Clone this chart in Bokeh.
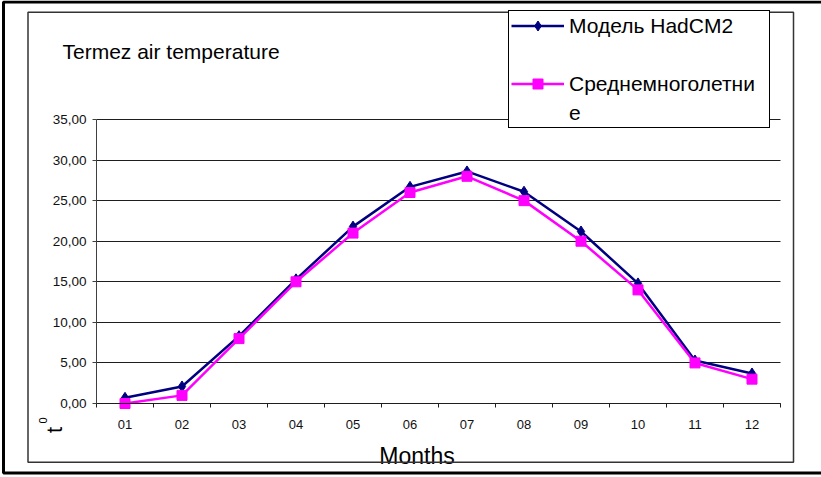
import math
from bokeh.plotting import figure
from bokeh.models import (FixedTicker, Legend, LegendItem, Label, BoxAnnotation,
                          Range1d, ColumnDataSource, LinearAxis, Grid)
from bokeh.embed import file_html
from bokeh.resources import INLINE

# ---- data ----
months = ["01", "02", "03", "04", "05", "06", "07", "08", "09", "10", "11", "12"]
month_pos = list(range(1, 13))
hadcm2 = [0.7, 2.1, 8.3, 15.3, 21.8, 26.7, 28.6, 26.1, 21.2, 14.8, 5.3, 3.7]
long_term_mean = [0.0, 1.0, 8.0, 15.0, 21.0, 26.0, 28.0, 25.0, 20.0, 14.0, 5.0, 3.0]
y_ticks = [0, 5, 10, 15, 20, 25, 30, 35]
y_tick_labels = ["0,00", "5,00", "10,00", "15,00", "20,00", "25,00", "30,00", "35,00"]
series_names = ["Модель HadCM2", "Среднемноголетни", "е"]
title_text = "Termez air temperature"
x_title = "Months"

FONT = "Liberation Sans"
NAVY = "#000080"
MAGENTA = "#FF00FF"

W, H = 821, 477
# plot area in pixels (left, right, top, bottom)
PL, PR, PT, PB = 96, 780, 119, 403
x_lo, x_hi = 0.5, 12.5
y_lo, y_hi = 0, 35
xs = (PR - PL) / (x_hi - x_lo)
ys = (PB - PT) / (y_hi - y_lo)
x_range = Range1d(x_lo - PL / xs, x_hi + (W - PR) / xs)
y_range = Range1d(y_lo - (H - PB) / ys, y_hi + PT / ys)

src = ColumnDataSource(data=dict(m=month_pos, had=hadcm2, mean=long_term_mean))

p = figure(width=W, height=H, output_backend="svg", toolbar_location=None,
           x_range=x_range, y_range=y_range, x_axis_location=None, y_axis_location=None,
           min_border=0)
p.outline_line_color = None
p.background_fill_color = "white"
p.border_fill_color = "white"
p.xgrid.visible = False
p.ygrid.visible = False

# horizontal grid lines limited to the plot area
grid = Grid(dimension=1, ticker=FixedTicker(ticks=y_ticks), grid_line_color="#1e1e1e",
            grid_line_width=1, bounds=(y_lo, y_hi))
if "cross_bounds" in grid.properties():
    grid.cross_bounds = (x_lo, x_hi)
    p.add_layout(grid)
else:
    p.segment(x0=x_lo, x1=x_hi, y0=y_ticks, y1=y_ticks, line_color="#1e1e1e", line_width=1)

# y axis inside the frame
yax = LinearAxis(fixed_location=x_lo, bounds=(y_lo, y_hi), ticker=FixedTicker(ticks=y_ticks))
yax.major_label_overrides = {t: l for t, l in zip(y_ticks, y_tick_labels)}
yax.axis_line_color = "#404040"
yax.major_tick_line_color = "#404040"
yax.major_tick_out = 4
yax.major_tick_in = 0
yax.minor_tick_line_color = None
yax.major_label_standoff = 6
yax.major_label_text_font = FONT
yax.major_label_text_font_size = "13.5px"
yax.major_label_text_color = "#111111"
p.add_layout(yax, "left")

# x axis inside the frame
xax = LinearAxis(fixed_location=y_lo, bounds=(x_lo, x_hi),
                 ticker=FixedTicker(ticks=month_pos,
                                    minor_ticks=[m - 0.5 for m in month_pos] + [month_pos[-1] + 0.5]))
xax.major_label_overrides = {m: s for m, s in zip(month_pos, months)}
xax.axis_line_color = "#1e1e1e"
xax.major_tick_out = 0
xax.major_tick_in = 0
xax.minor_tick_out = 4
xax.minor_tick_in = 0
xax.minor_tick_line_color = "#1e1e1e"
xax.major_label_standoff = 12
xax.major_label_text_font = FONT
xax.major_label_text_font_size = "13px"
xax.major_label_text_color = "#111111"
p.add_layout(xax, "below")

# series
r1l = p.line(x="m", y="had", source=src, line_color=NAVY, line_width=2.5)
r1s = p.scatter(x="m", y="had", source=src, marker="diamond", size=11,
                fill_color=NAVY, line_color=NAVY)
r2l = p.line(x="m", y="mean", source=src, line_color=MAGENTA, line_width=2.5)
r2s = p.scatter(x="m", y="mean", source=src, marker="square", size=10,
                fill_color=MAGENTA, line_color=MAGENTA)

legend = Legend(items=[
    LegendItem(label=series_names[0], renderers=[r1l, r1s]),
    LegendItem(label=" ", renderers=[]),
    LegendItem(label=series_names[1], renderers=[r2l, r2s]),
    LegendItem(label=series_names[2], renderers=[]),
], location=(508, H - 128))
legend.label_text_font = FONT
legend.label_text_font_size = "21px"
legend.label_text_color = "black"
legend.glyph_width = 53
legend.glyph_height = 25
legend.label_height = 25
legend.label_width = 198
legend.label_standoff = 5
legend.padding = 2
legend.spacing = 4
legend.margin = 0
legend.border_line_color = "black"
legend.border_line_width = 1
legend.border_line_alpha = 1.0
legend.background_fill_color = "white"
legend.background_fill_alpha = 1.0
p.add_layout(legend)

# texts (screen units measured from the canvas bottom-left)
p.add_layout(Label(x=62, y=H - 51, x_units="screen", y_units="screen", text=title_text,
                   text_font=FONT, text_font_size="21px", text_baseline="alphabetic",
                   text_color="black"))
p.add_layout(Label(x=416.5, y=H - 455, x_units="screen", y_units="screen", text=x_title,
                   text_font=FONT, text_font_size="23px", text_baseline="alphabetic",
                   text_align="center", text_color="black"))
p.add_layout(Label(x=54, y=H - 429.5, x_units="screen", y_units="screen", text="t",
                   angle=math.pi / 2, text_font=FONT, text_font_size="22px",
                   text_baseline="middle", text_align="center", text_color="black"))
p.add_layout(Label(x=42, y=H - 420, x_units="screen", y_units="screen", text="0",
                   angle=math.pi / 2, text_font=FONT, text_font_size="11px",
                   text_baseline="middle", text_align="center", text_color="black"))

# chart-area border and outer frame
p.add_layout(BoxAnnotation(left=27.5, right=793, top=H - 11.7, bottom=H - 461.7,
                           left_units="screen", right_units="screen",
                           top_units="screen", bottom_units="screen",
                           fill_alpha=0, line_color="#333333", line_alpha=1.0, line_width=1.5))
p.add_layout(BoxAnnotation(left=3, right=835, top=H - 1.5, bottom=H - 472.5,
                           left_units="screen", right_units="screen",
                           top_units="screen", bottom_units="screen",
                           fill_alpha=0, line_color="black", line_alpha=1.0, line_width=3))

open("out.html", "w").write(file_html(p, INLINE))
